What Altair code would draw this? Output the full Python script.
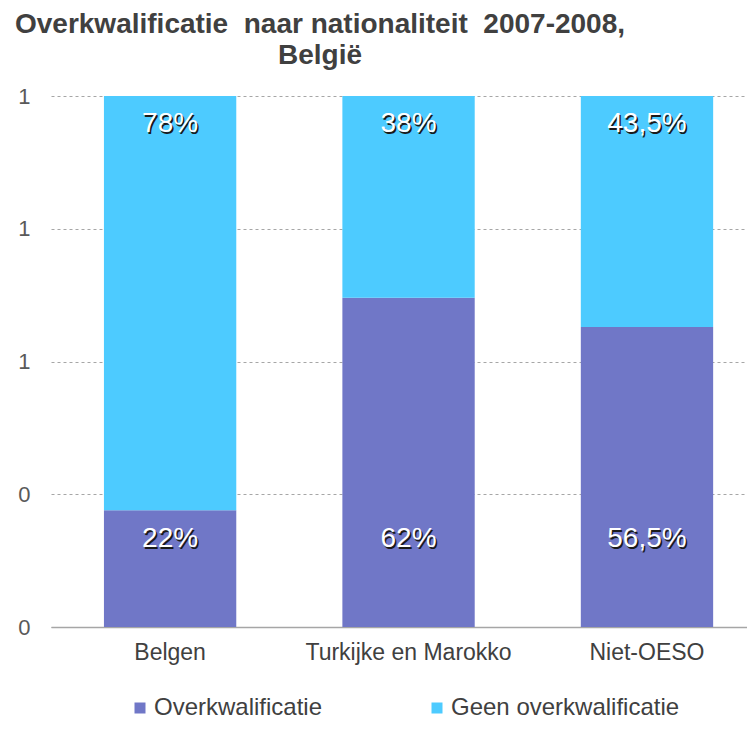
import altair as alt
import pandas as pd

categories = ["Belgen", "Turkijke en Marokko", "Niet-OESO"]
series = ["Overkwalificatie", "Geen overkwalificatie"]
over_values = [0.22, 0.62, 0.565]
geen_values = [0.78, 0.38, 0.435]
over_labels = ["22%", "62%", "56,5%"]
geen_labels = ["78%", "38%", "43,5%"]
y_tick_values = [0, 0.25, 0.5, 0.75, 1]
y_tick_labels = ["0", "0", "1", "1", "1"]
colors = ["#7077C7", "#4DCBFF"]
title_lines = ["Overkwalificatie \u00a0naar nationaliteit \u00a02007-2008,", "België"]

rows = []
for i, c in enumerate(categories):
    rows.append({"cat": c, "series": series[0], "value": over_values[i], "label": over_labels[i], "order": 0})
    rows.append({"cat": c, "series": series[1], "value": geen_values[i], "label": geen_labels[i], "order": 1})
df = pd.DataFrame(rows)

FONT = "Liberation Sans"

label_expr = "[" + ",".join("'%s'" % s for s in y_tick_labels) + "][indexof([" + \
    ",".join(str(v) for v in y_tick_values) + "], datum.value)]"

x_enc = alt.X("cat:N", sort=categories, title=None,
              scale=alt.Scale(paddingInner=0.445, paddingOuter=0.182, align=0.61),
              axis=alt.Axis(labelAngle=0, ticks=False, labelPadding=14, labelFontSize=23,
                            labelColor="#404040", labelFont=FONT, domainColor="#a6a6a6",
                            domainWidth=1.5, grid=False, labelLimit=400))
y_scale = alt.Scale(domain=[0, 1])

base = alt.Chart(df)

bars = base.mark_bar().encode(
    x=x_enc,
    y=alt.Y("value:Q", stack="zero", scale=y_scale, title=None,
            axis=alt.Axis(values=y_tick_values, labelExpr=label_expr, domain=False, ticks=False,
                          grid=True, gridDash=[3, 3], gridColor="#a6a6a6", gridWidth=1,
                          labelFontSize=22, labelColor="#595959", labelFont=FONT, labelPadding=21)),
    color=alt.Color("series:N", sort=series, scale=alt.Scale(domain=series, range=colors),
                    legend=alt.Legend(title=None, orient="none", direction="horizontal",
                                      legendX=77, legendY=600, symbolType="square", symbolSize=121,
                                      symbolStrokeWidth=0, labelFontSize=24, labelFont=FONT,
                                      labelColor="#404040", columnPadding=102, labelOffset=2,
                                      padding=0, labelLimit=400)),
    order=alt.Order("order:Q"),
)

def text_layer(s, ypos, dy, fill, dx):
    return base.transform_filter(alt.datum.series == s).mark_text(
        font=FONT, fontSize=28, fill=fill, dy=dy, dx=dx, baseline="middle", align="center"
    ).encode(
        x=alt.X("cat:N", sort=categories),
        y=alt.YDatum(ypos),
        text="label:N",
    )

layers = [bars]
for s, ypos, dy in [(series[1], 1, 28), (series[0], 0, -88)]:
    layers.append(text_layer(s, ypos, dy + 1.5, "#1a1a1a", 1.5))
    layers.append(text_layer(s, ypos, dy, "#ffffff", 0))

chart = alt.layer(*layers).properties(
    width=696, height=531,
    title=alt.TitleParams(text=title_lines, font=FONT, fontSize=28, fontWeight="bold",
                          color="#404040", anchor="middle", dx=-79, offset=15, lineHeight=31),
    autosize=alt.AutoSizeParams(type="none"),
    padding={"left": 43, "top": 88, "right": 0, "bottom": 94},
).configure_view(stroke=None)

chart.save("out.html", embed_options={"renderer": "svg", "actions": False})
